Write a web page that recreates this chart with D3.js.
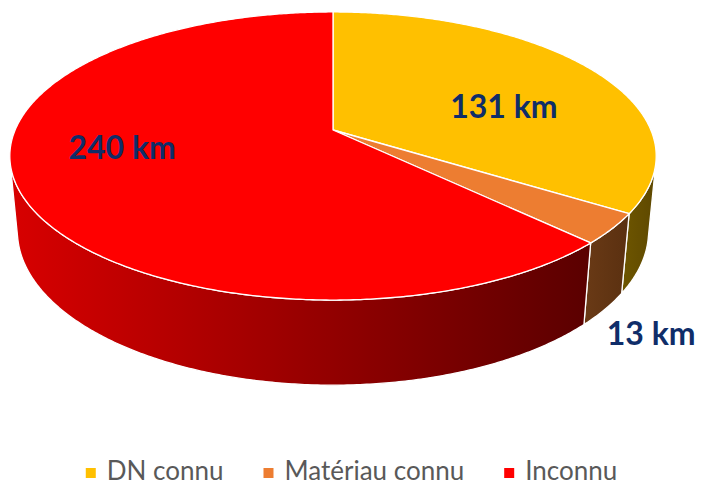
<!DOCTYPE html>
<html>
<head>
<meta charset="utf-8">
<script src="https://cdn.jsdelivr.net/npm/d3@7"></script>
<style>
  html, body { margin: 0; padding: 0; background: #fff; }
  svg { display: block; }
</style>
</head>
<body>
<svg id="pie3d" width="703" height="486"></svg>
<script>
const categories = ['DN connu', 'Matériau connu', 'Inconnu'];
const values = [131, 13, 240];
const valueLabels = ['131 km', '13 km', '240 km'];

const topColors = ['#ffc000', '#ed7d31', '#ff0000'];
const wallColors = [['#6e5600', '#5e4800'], ['#6a3a16', '#5a3010'], ['#d80000', '#5a0000']];

const svg = d3.select('svg#pie3d');
const width = 703, height = 486;

// perspective camera for the tilted disc
const cx = 333, cy = 130;
const focal = 1583, dist = 4.98;
const tilt = 26 * Math.PI / 180;
const sinT = Math.sin(tilt), cosT = Math.cos(tilt);
const thick = 0.265;

// theta measured like d3.pie: 0 at far point, clockwise
const project = (theta, r, z) => {
  const u = r * Math.sin(theta);
  const v = r * Math.cos(theta);
  const depth = dist + v * cosT - z * sinT;
  const up = v * sinT + z * cosT;
  return [cx + focal * u / depth, cy - focal * up / depth];
};

const arcPoints = (a0, a1, r, z) => {
  const n = Math.max(2, Math.ceil(Math.abs(a1 - a0) / (Math.PI / 360)));
  return d3.range(n + 1).map(i => project(a0 + (a1 - a0) * i / n, r, z));
};

const data = categories.map((c, i) => ({ name: c, value: values[i], label: valueLabels[i], idx: i }));

const pie = d3.pie()
  .sort(null)
  .value(d => d.value)
  .startAngle(0)
  .endAngle(2 * Math.PI);
const arcs = pie(data);

const color = d3.scaleOrdinal().domain(categories).range(topColors);

const defs = svg.append('defs');
const line = d3.line();

// visible part of the outer wall
const lim = Math.acos(-1 / (dist * cosT));
const vis0 = lim, vis1 = 2 * Math.PI - lim;

const wallG = svg.append('g').attr('class', 'walls');
arcs.forEach((a, i) => {
  const s = Math.max(a.startAngle, vis0);
  const e = Math.min(a.endAngle, vis1);
  if (e <= s) return;
  const topPts = arcPoints(s, e, 1, 0);
  const botPts = arcPoints(e, s, 1, -thick);
  const pts = topPts.concat(botPts);
  const xs = pts.map(p => p[0]);
  const gid = 'wall-grad-' + i;
  const grad = defs.append('linearGradient')
    .attr('id', gid)
    .attr('gradientUnits', 'userSpaceOnUse')
    .attr('x1', d3.min(xs)).attr('x2', d3.max(xs))
    .attr('y1', 0).attr('y2', 0);
  grad.append('stop').attr('offset', 0).attr('stop-color', wallColors[i][0]);
  grad.append('stop').attr('offset', 1).attr('stop-color', wallColors[i][1]);
  wallG.append('path')
    .attr('d', line(pts) + 'Z')
    .attr('fill', `url(#${gid})`)
    .attr('stroke', '#fff')
    .attr('stroke-width', 1.3)
    .attr('stroke-linejoin', 'round');
});

const topG = svg.append('g').attr('class', 'tops');
topG.selectAll('path')
  .data(arcs)
  .enter().append('path')
    .attr('d', a => line([project(0, 0, 0)].concat(arcPoints(a.startAngle, a.endAngle, 1, 0))) + 'Z')
    .attr('fill', a => color(a.data.name))
    .attr('stroke', '#fff')
    .attr('stroke-width', 1.3)
    .attr('stroke-linejoin', 'round');

// data labels: placed in disc coordinates (angle shift, radius)
const labelPlace = [[0.2, 0.58], [0.29, 1.4], [0.21, 0.66]];
const labelXY = a => project((a.startAngle + a.endAngle) / 2 + labelPlace[a.index][0], labelPlace[a.index][1], 0);
svg.append('g').attr('class', 'labels')
  .selectAll('text')
  .data(arcs)
  .enter().append('text')
    .attr('x', a => labelXY(a)[0])
    .attr('y', a => labelXY(a)[1])
    .attr('text-anchor', 'middle')
    .attr('dy', '0.36em')
    .attr('fill', '#0f2d69')
    .style('font-family', 'Lato, sans-serif')
    .style('font-weight', 700)
    .style('font-size', '32px')
    .text(a => a.data.label);

// legend
const legendY = 471;
const legend = svg.append('g').attr('class', 'legend');
const items = legend.selectAll('g')
  .data(data)
  .enter().append('g');
items.append('rect')
  .attr('width', 10).attr('height', 10)
  .attr('y', -3)
  .attr('fill', d => color(d.name));
items.append('text')
  .attr('x', 21)
  .attr('dy', '0.36em')
  .attr('fill', '#595959')
  .style('font-family', 'Lato, sans-serif')
  .style('font-size', '26px')
  .text(d => d.name);

let xPos = 0;
const gap = 40;
items.each(function() {
  const g = d3.select(this);
  g.attr('transform', `translate(${xPos},0)`);
  const w = 21 + g.select('text').node().getComputedTextLength();
  xPos += w + gap;
});
const total = xPos - gap;
legend.attr('transform', `translate(${(width - total) / 2},${legendY})`);
</script>
</body>
</html>
